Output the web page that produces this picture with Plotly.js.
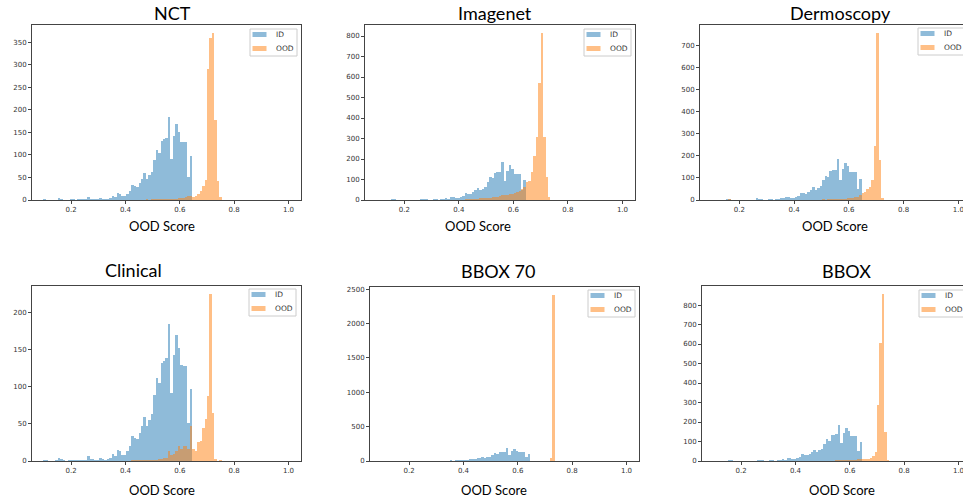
<!DOCTYPE html>
<html>
<head>
<meta charset="utf-8">
<script src="https://cdn.plot.ly/plotly-3.0.1.min.js"></script>
<style>
html,body{margin:0;padding:0;overflow:hidden;background:#fff;width:963px;height:501px;}
#chart{position:absolute;left:0;top:0;width:975px;height:501px;}
</style>
</head>
<body>
<div id="chart"></div>
<script>
// ---- data ----
const binStart = 0.097;
const binWidth = 0.009;
const panelTitles = ["NCT", "Imagenet", "Dermoscopy", "Clinical", "BBOX 70", "BBOX"];
const seriesNames = ["ID", "OOD"];
const xLabel = "OOD Score";
const xTickVals = [0.2, 0.4, 0.6, 0.8, 1.0];
const yTickSteps = [50, 100, 100, 50, 500, 100];

// in-distribution counts per bin (same for all panels)
const idCounts = [
  2,1,0,0,0,1,4,3,1,0,
  1,2,2,1,2,2,2,2,7,3,
  3,2,2,4,3,2,3,4,10,7,
  15,13,8,8,13,20,34,31,29,37,
  47,59,47,55,63,89,111,105,132,135,
  138,184,92,142,169,152,129,128,128,51,
  97
];
const oodNCT = [
  0,0,0,0,0,0,0,0,0,0,
  0,0,0,0,0,0,0,0,0,0,
  0,0,0,0,0,0,0,0,0,0,
  0,0,0,0,0,0,0,0,1,0,
  1,1,2,1,2,2,2,3,2,3,
  2,2,3,3,3,4,4,5,6,8,
  10,7,9,13,20,30,45,290,360,370,
  178,42,6
];
const oodImagenet = [
  0,0,0,0,0,0,0,0,0,0,
  0,0,0,0,0,0,0,0,0,0,
  0,0,0,0,0,0,0,0,0,0,
  1,1,1,2,2,2,3,3,4,5,
  6,7,8,9,10,11,12,13,15,17,
  20,22,24,26,28,31,34,38,45,52,
  62,89,95,138,215,309,569,813,309,114,
  16
];
const oodDermoscopy = [
  0,0,0,0,0,0,0,4,0,0,
  0,0,0,0,0,0,0,0,0,0,
  0,0,0,0,0,0,0,0,0,0,
  0,0,0,0,0,0,0,0,0,0,
  1,1,1,2,2,3,2,3,3,3,
  4,4,5,5,6,7,8,10,12,15,
  22,30,38,48,60,91,247,756,181,8,
  2
];
const oodClinical = [
  0,0,0,0,0,0,0,0,0,0,
  0,0,0,0,0,0,0,0,0,0,
  0,0,0,0,0,0,0,0,0,0,
  0,0,0,0,0,0,1,2,1,1,
  1,1,2,1,2,2,2,3,3,4,
  4,14,8,9,14,20,16,20,20,16,
  47,16,14,26,27,45,57,87,224,64,
  3,0,2
];
const oodBBOX70 = [
  0,0,0,0,0,0,0,0,0,0,
  0,0,0,0,0,0,0,0,0,0,
  0,0,0,0,0,0,0,0,0,0,
  0,0,0,0,0,0,0,0,0,0,
  0,0,0,0,0,0,0,0,0,0,
  0,0,0,0,0,0,0,0,0,0,
  0,0,0,0,0,0,0,0,0,48,
  2410
];
const oodBBOX = [
  0,0,0,0,0,0,0,0,0,0,
  0,0,0,0,0,0,0,0,0,0,
  0,0,0,0,0,0,0,0,0,0,
  0,0,0,0,0,0,0,0,0,0,
  0,0,0,0,0,0,0,0,0,0,
  3,4,5,4,3,3,4,5,6,8,
  9,10,8,10,14,26,48,287,607,855,
  149,5
];
const oodSeries = [oodNCT, oodImagenet, oodDermoscopy, oodClinical, oodBBOX70, oodBBOX];

// ---- layout geometry (pixels in a 975 x 501 figure, cropped to 963 by the window) ----
const W = 975, H = 501;
const px = p => p / W;
const py = p => 1 - p / H;
const boxes = [
  {l: 32,  r: 301, t: 25,  b: 200},
  {l: 365, r: 635, t: 25,  b: 200},
  {l: 700, r: 971, t: 25,  b: 200},
  {l: 32,  r: 301, t: 286, b: 461},
  {l: 370, r: 639, t: 287, b: 461},
  {l: 702, r: 971, t: 286, b: 461}
];
const titlePos = [[172,13],[495,13],[840,13],[133,270],[498,271],[846,271]];
const labelPos = [[162,226],[478,226],[835,226],[162,490],[494,490],[842,490]];
const legendBox = [[250,29],[584,29],[918,28],[249,289],[588,290],[919,290]];

const idColor = "rgba(31,119,180,0.5)";
const oodColor = "rgba(255,127,14,0.5)";
const seriesColors = [idColor, oodColor];
const tickFont = {family: "DejaVu Sans", size: 7, color: "#333"};
const textFont = "Lato, 'Open Sans', sans-serif";

const binCenters = n => Array.from({length: n}, (_, i) => binStart + (i + 0.5) * binWidth);

const traces = [];
const layout = {
  width: W, height: H,
  margin: {l: 0, r: 0, t: 0, b: 0, autoexpand: false},
  paper_bgcolor: "#fff", plot_bgcolor: "#fff",
  barmode: "overlay", bargap: 0,
  showlegend: false,
  annotations: [],
  shapes: []
};

for (let p = 0; p < 6; p++) {
  const sfx = p === 0 ? "" : String(p + 1);
  const ood = oodSeries[p];
  const data = [idCounts, ood];
  for (let s = 0; s < 2; s++) {
    traces.push({
      type: "bar", name: seriesNames[s], x: binCenters(data[s].length), y: data[s],
      width: binWidth, marker: {color: seriesColors[s], line: {width: 0}},
      xaxis: "x" + sfx, yaxis: "y" + sfx, hoverinfo: "skip"
    });
  }
  const bx = boxes[p];
  const ymax = Math.max(Math.max(...idCounts), Math.max(...ood)) * 1.05;
  const axBase = {
    showline: true, linecolor: "#444", linewidth: 1, mirror: true,
    ticks: "outside", ticklen: 3, tickwidth: 1, tickcolor: "#444",
    tickfont: tickFont, showgrid: false, zeroline: false, fixedrange: true
  };
  layout["xaxis" + sfx] = Object.assign({}, axBase, {
    domain: [px(bx.l), px(bx.r)], anchor: "y" + sfx,
    range: [0.056, 1.046], tickvals: xTickVals, tickformat: ".1f"
  });
  layout["yaxis" + sfx] = Object.assign({}, axBase, {
    domain: [py(bx.b), py(bx.t)], anchor: "x" + sfx,
    range: [0, ymax], dtick: yTickSteps[p], tick0: 0
  });
  layout.annotations.push({
    text: panelTitles[p], xref: "paper", yref: "paper",
    x: px(titlePos[p][0]), y: py(titlePos[p][1]), xanchor: "center", yanchor: "middle",
    showarrow: false, font: {family: textFont, size: 18, color: "#000"}
  });
  layout.annotations.push({
    text: xLabel, xref: "paper", yref: "paper",
    x: px(labelPos[p][0]), y: py(labelPos[p][1]), xanchor: "center", yanchor: "middle",
    showarrow: false, font: {family: textFont, size: 13, color: "#000"}
  });
  // legend (matplotlib style box)
  const [lx, ly] = legendBox[p];
  layout.shapes.push({
    type: "rect", xref: "paper", yref: "paper",
    x0: px(lx), x1: px(lx + 47), y0: py(ly), y1: py(ly + 27),
    line: {color: "#cccccc", width: 1}, fillcolor: "rgba(255,255,255,0.8)", layer: "above"
  });
  for (let s = 0; s < 2; s++) {
    const top = ly + (s === 0 ? 3 : 17);
    layout.shapes.push({
      type: "rect", xref: "paper", yref: "paper",
      x0: px(lx + 2.5), x1: px(lx + 16.5), y0: py(top), y1: py(top + 5),
      line: {width: 0}, fillcolor: seriesColors[s], layer: "above"
    });
    layout.annotations.push({
      text: seriesNames[s], xref: "paper", yref: "paper",
      x: px(lx + 23.5), y: py(top + 2.5), xanchor: "left", yanchor: "middle",
      showarrow: false, font: {family: "DejaVu Sans", size: 7.5, color: "#333"}
    });
  }
}

Plotly.newPlot("chart", traces, layout, {displayModeBar: false, staticPlot: true});
</script>
</body>
</html>
